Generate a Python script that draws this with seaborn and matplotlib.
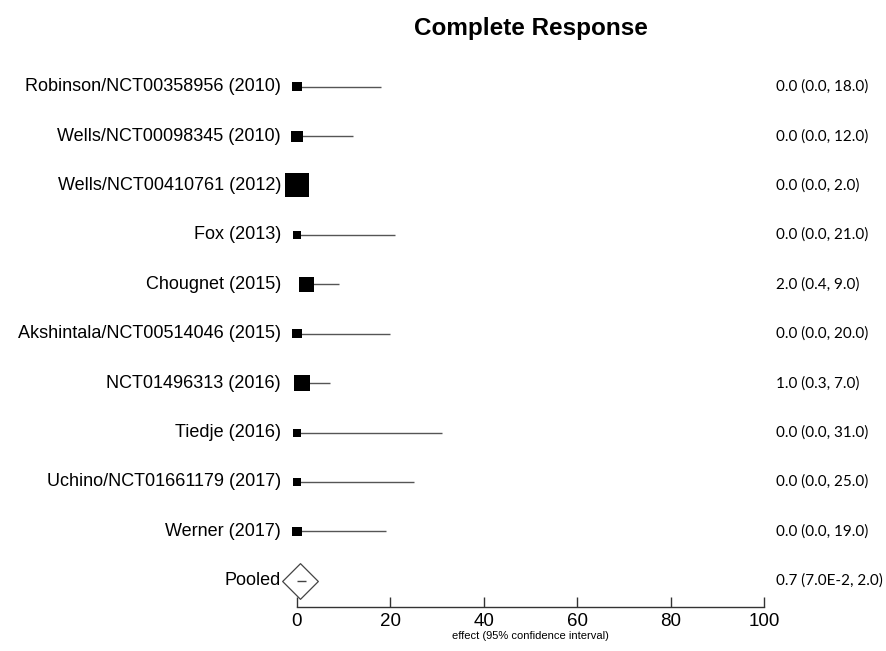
import matplotlib
matplotlib.use("Agg")
import matplotlib.pyplot as plt
import seaborn as sns
import pandas as pd
import numpy as np

studies = ["Robinson/NCT00358956 (2010)", "Wells/NCT00098345 (2010)", "Wells/NCT00410761 (2012)",
           "Fox (2013)", "Chougnet (2015)", "Akshintala/NCT00514046 (2015)", "NCT01496313 (2016)",
           "Tiedje (2016)", "Uchino/NCT01661179 (2017)", "Werner (2017)"]
effect = [0.0, 0.0, 0.0, 0.0, 2.0, 0.0, 1.0, 0.0, 0.0, 0.0]
lower = [0.0, 0.0, 0.0, 0.0, 0.4, 0.0, 0.3, 0.0, 0.0, 0.0]
upper = [18.0, 12.0, 2.0, 21.0, 9.0, 20.0, 7.0, 31.0, 25.0, 19.0]
weight = [5.0, 7.5, 35.5, 3.9, 13.9, 5.0, 15.8, 3.9, 4.5, 5.0]
ci_text = ["0.0 (0.0, 18.0)", "0.0 (0.0, 12.0)", "0.0 (0.0, 2.0)", "0.0 (0.0, 21.0)", "2.0 (0.4, 9.0)",
           "0.0 (0.0, 20.0)", "1.0 (0.3, 7.0)", "0.0 (0.0, 31.0)", "0.0 (0.0, 25.0)", "0.0 (0.0, 19.0)"]
pooled_label = "Pooled"
pooled_effect = 0.7
pooled_lower = 0.07
pooled_upper = 2.0
pooled_text = "0.7 (7.0E-2, 2.0)"
xticks = [0, 20, 40, 60, 80, 100]

sns.set_theme(style="white")
plt.rcParams['font.family'] = ['Liberation Sans', 'DejaVu Sans']
plt.rcParams['text.color'] = 'black'
plt.rcParams['xtick.color'] = 'black'
plt.rcParams['axes.labelcolor'] = 'black'

df = pd.DataFrame({"study": studies, "effect": effect, "lower": lower, "upper": upper,
                   "weight": weight, "row": np.arange(len(studies))})

fig = plt.figure(figsize=(8.87, 6.51), dpi=100)
ax = fig.add_axes([297/887, 1-607/651, (764-297)/887, (607-57)/651])

# CI lines
ax.hlines(df["row"], df["lower"], df["upper"], color="#555555", lw=1.0, zorder=1, clip_on=False)

k = 8.41
sns.scatterplot(data=df, x="effect", y="row", size="weight",
                sizes=(min(weight)*k, max(weight)*k), marker="s", color="black",
                edgecolor="black", linewidth=0, legend=False, ax=ax, zorder=2, clip_on=False)

prow = len(studies)
# pooled diamond
ax.scatter([pooled_effect], [prow], marker="D", s=330, facecolor="white",
           edgecolor="#444444", linewidth=0.9, zorder=3, clip_on=False)
ax.hlines(prow, pooled_lower, pooled_upper, color="#444444", lw=1.0, zorder=4, clip_on=False)

ax.set_xlim(0, 100)
ax.set_ylim(prow + 0.53, -0.6)
ax.set_yticks([])
ax.set_xticks(xticks)
ax.set_xticklabels([str(t) for t in xticks], fontsize=13.5)
for s in ["top", "right", "left"]:
    ax.spines[s].set_visible(False)
ax.spines["bottom"].set_color("#333333")
ax.spines["bottom"].set_linewidth(1.0)
ax.tick_params(axis="x", direction="in", length=7, width=1.0, color="#333333", pad=4, bottom=True)
ax.set_xlabel("effect (95% confidence interval)", fontsize=8, labelpad=1)
ax.set_ylabel("")

trans = ax.get_yaxis_transform()
for i, (lab, txt) in enumerate(zip(studies, ci_text)):
    ax.text(-16/467, i, lab, ha="right", va="center", fontsize=13, transform=trans)
    ax.text(1 + 12/467, i, txt, ha="left", va="center", fontsize=11,
            family=["Lato", "DejaVu Sans"], transform=trans)
ax.text(-16/467, prow, pooled_label, ha="right", va="center", fontsize=13, transform=trans)
ax.text(1 + 12/467, prow, pooled_text, ha="left", va="center", fontsize=11,
        family=["Lato", "DejaVu Sans"], transform=trans)

fig.text(531/887, 1-28/651, "Complete Response", ha="center", va="center",
         fontsize=17.5, fontweight="bold")

fig.savefig("out.png", dpi=100, facecolor="white")
